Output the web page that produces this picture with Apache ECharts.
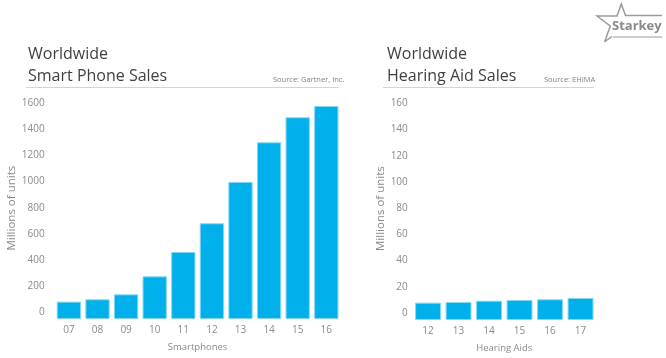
<!DOCTYPE html>
<html>
<head>
<meta charset="utf-8">
<script src="https://cdn.jsdelivr.net/npm/echarts@6/dist/echarts.min.js"></script>
<style>
html,body{margin:0;padding:0;background:#fff;}
#c{width:666px;height:358px;}
</style>
</head>
<body>
<div id="c"></div>
<script>
// Data
const phoneYears = ['07','08','09','10','11','12','13','14','15','16'];
const phoneSales = [133, 151, 189, 327, 514, 734, 1051, 1355, 1547, 1633];
const aidYears = ['12','13','14','15','16','17'];
const aidSales = [13.2, 13.7, 14.7, 15.3, 15.8, 16.8];

const FONT = '"Open Sans", "Noto Sans", sans-serif';
const BAR = '#00b0ea';
const LABEL = '#8a8a8a';

const chart = echarts.init(document.getElementById('c'), null, {renderer: 'canvas'});

function yAxisCfg(gridIndex, max, interval, margin, nameGap) {
  return {
    type: 'value', gridIndex: gridIndex, min: 0, max: max, interval: interval,
    name: 'Millions of units', nameLocation: 'middle', nameGap: nameGap, nameRotate: 90,
    nameTextStyle: {color: LABEL, fontSize: 11.5, fontFamily: FONT},
    axisLine: {show: false}, axisTick: {show: false}, splitLine: {show: false},
    axisLabel: {color: LABEL, fontSize: 10, fontFamily: FONT, margin: margin,
      showMaxLabel: false, verticalAlign: 'bottom', lineHeight: 14,
      formatter: function (v) { return String(v); }}
  };
}
function xAxisCfg(gridIndex, data, name) {
  return {
    type: 'category', gridIndex: gridIndex, data: data,
    name: name, nameLocation: 'middle', nameGap: 23,
    nameTextStyle: {color: LABEL, fontSize: 9.5, fontFamily: FONT},
    axisLine: {show: false}, axisTick: {show: false},
    axisLabel: {color: LABEL, fontSize: 10, fontFamily: FONT, margin: 6}
  };
}

chart.setOption({
  backgroundColor: '#ffffff',
  animation: false,
  title: [
    {text: 'Worldwide\nSmart Phone Sales', left: 23, top: 38,
     textStyle: {color: '#3f3f3f', fontSize: 16, fontWeight: 'normal', fontFamily: FONT, lineHeight: 22}},
    {text: 'Worldwide\nHearing Aid Sales', left: 382, top: 38,
     textStyle: {color: '#3f3f3f', fontSize: 16, fontWeight: 'normal', fontFamily: FONT, lineHeight: 22}}
  ],
  grid: [
    {left: 54.6, right: 666 - 340.6, top: 97.3, bottom: 358 - 319},
    {left: 412.8, right: 666 - 595.8, top: 97.2, bottom: 358 - 320}
  ],
  xAxis: [xAxisCfg(0, phoneYears, 'Smartphones'), xAxisCfg(1, aidYears, 'Hearing Aids')],
  yAxis: [yAxisCfg(0, 1700, 200, 10, 34), yAxisCfg(1, 170, 20, 5, 22)],
  series: [
    {type: 'bar', xAxisIndex: 0, yAxisIndex: 0, data: phoneSales, barCategoryGap: '15%',
     itemStyle: {color: BAR, borderColor: '#86d6f3', borderWidth: 1}},
    {type: 'bar', xAxisIndex: 1, yAxisIndex: 1, data: aidSales, barCategoryGap: '15%',
     itemStyle: {color: BAR, borderColor: '#86d6f3', borderWidth: 1}}
  ],
  graphic: [
    {type: 'line', shape: {x1: 26, y1: 87.5, x2: 339, y2: 87.5}, style: {stroke: '#d4d4d4', lineWidth: 1}},
    {type: 'line', shape: {x1: 383, y1: 87.5, x2: 594, y2: 87.5}, style: {stroke: '#d4d4d4', lineWidth: 1}},
    {type: 'text', left: 273, top: 76, style: {text: 'Source: Gartner, Inc.', fill: '#808080', font: '7.5px ' + FONT}},
    {type: 'text', left: 544, top: 76, style: {text: 'Source: EHIMA', fill: '#808080', font: '7.5px ' + FONT}},
    {type: 'polyline', shape: {points: [[604.7, 41.7], [610.3, 26], [597, 16], [617, 16], [621.3, 4], [625.5, 15.5], [662, 15.5]]},
     style: {stroke: '#9a9a9a', lineWidth: 1.5, fill: null}},
    {type: 'polyline', shape: {points: [[604.7, 41.7], [612, 36.5]]},
     style: {stroke: '#9a9a9a', lineWidth: 1.5, fill: null}},
    {type: 'line', shape: {x1: 613, y1: 37, x2: 662, y2: 37}, style: {stroke: '#9a9a9a', lineWidth: 1.2}},
    {type: 'text', left: 612, top: 20, style: {text: 'Starkey', fill: '#8a8a8a', font: 'bold 13px ' + FONT}}
  ]
});
</script>
</body>
</html>
